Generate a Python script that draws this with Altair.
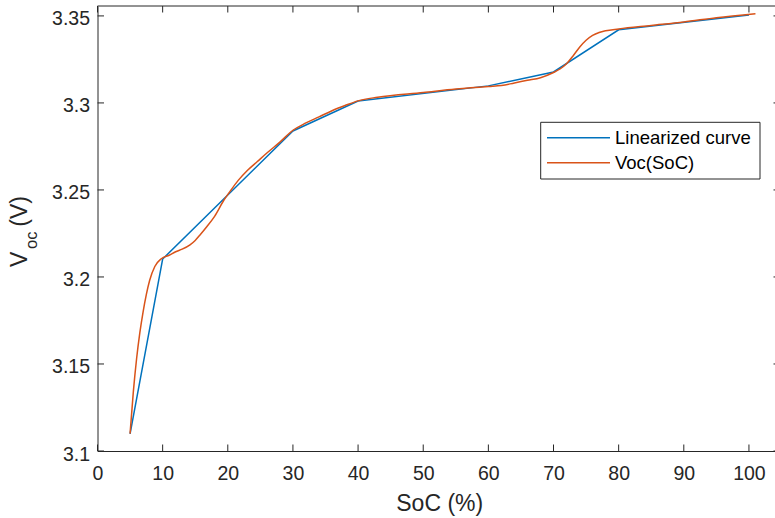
import altair as alt
import pandas as pd

# Linearized curve (piecewise linear breakpoints)
lin_soc = [5, 10, 30, 40, 60, 70, 80, 100]
lin_voc = [3.1098, 3.2103, 3.2839, 3.3011, 3.3098, 3.3178, 3.3420, 3.3505]

# Voc(SoC) measured curve
voc_soc = [5, 5.5, 6, 6.5, 7, 7.5, 8.0, 8.8, 9.8, 11, 12, 13, 14.2, 15, 15.7,
           16.8, 18, 19.3, 20.5, 21.6, 23, 24.5, 26, 28, 30, 32, 34, 36, 38, 40, 43, 50,
           55, 60, 62, 64, 66, 68, 70, 71, 72, 73, 74, 75, 76, 77, 78, 80, 85, 90, 95, 101]
voc_val = [3.110, 3.134, 3.153, 3.168, 3.180, 3.190, 3.198, 3.206, 3.2105, 3.2125,
           3.2145, 3.216, 3.2185, 3.221, 3.224, 3.229, 3.235, 3.2435, 3.2500, 3.2555,
           3.2612, 3.2662, 3.2712, 3.2775, 3.2843, 3.2885, 3.292, 3.2955, 3.2985, 3.3012,
           3.3033, 3.306, 3.308, 3.3095, 3.310, 3.3115, 3.313, 3.3145, 3.3175, 3.3195,
           3.3225, 3.327, 3.332, 3.336, 3.3388, 3.3405, 3.3415, 3.3425, 3.3445, 3.3465,
           3.349, 3.3513]

x_ticks = [0, 10, 20, 30, 40, 50, 60, 70, 80, 90, 100]
y_ticks = [3.1, 3.15, 3.2, 3.25, 3.3, 3.35]

legend_labels = ["Linearized curve", "Voc(SoC)"]

BLUE = "#0072BD"
ORANGE = "#D95319"
AX = "#262626"
FONT = "Liberation Sans"
W, H = 677.5, 445
XDOM = [0, 104.0]
YDOM = [3.1, 3.3557]

lin_df = pd.DataFrame({"soc": lin_soc, "voc": lin_voc})
voc_df = pd.DataFrame({"soc": voc_soc, "voc": voc_val})
xt_df = pd.DataFrame({"t": x_ticks})
yt_df = pd.DataFrame({"t": y_ticks})
one = alt.Data(values=[{"a": 1}])

xscale = alt.Scale(domain=XDOM, nice=False, zero=False)
yscale = alt.Scale(domain=YDOM, nice=False, zero=False)

xaxis = alt.Axis(title="", values=x_ticks, tickSize=0, grid=False, domainColor=AX,
                 domainWidth=1, labelColor=AX, labelFont=FONT, labelFontSize=19.5,
                 labelPadding=13, format="d", labelFlush=False, labelOverlap=False)
yaxis = alt.Axis(title="", values=y_ticks, tickSize=0, grid=False, domainColor=AX,
                 domainWidth=1, labelColor=AX, labelFont=FONT, labelFontSize=19.5,
                 labelPadding=8, format="~g", labelOffset=3, labelFlush=False,
                 labelOverlap=False)

lin_line = alt.Chart(lin_df).mark_line(color=BLUE, strokeWidth=1.5).encode(
    x=alt.X("soc:Q", scale=xscale, axis=xaxis),
    y=alt.Y("voc:Q", scale=yscale, axis=yaxis),
)
voc_line = alt.Chart(voc_df).mark_line(color=ORANGE, strokeWidth=1.5, interpolate="monotone").encode(
    x=alt.X("soc:Q", scale=xscale),
    y=alt.Y("voc:Q", scale=yscale),
)

# inward ticks (MATLAB style)
xt_bottom = alt.Chart(xt_df).mark_rule(color=AX, strokeWidth=1).encode(
    x=alt.X("t:Q", scale=xscale), y=alt.value(H), y2=alt.value(H - 6.5))
xt_top = alt.Chart(xt_df).mark_rule(color=AX, strokeWidth=1).encode(
    x=alt.X("t:Q", scale=xscale), y=alt.value(0), y2=alt.value(6.5))
yt_left = alt.Chart(yt_df).mark_rule(color=AX, strokeWidth=1).encode(
    y=alt.Y("t:Q", scale=yscale), x=alt.value(0), x2=alt.value(6.5))
yt_right = alt.Chart(yt_df).mark_rule(color=AX, strokeWidth=1).encode(
    y=alt.Y("t:Q", scale=yscale), x=alt.value(W - 1.5), x2=alt.value(W))

top_border = alt.Chart(one).mark_rule(color=AX, strokeWidth=1).encode(
    x=alt.value(0), x2=alt.value(W), y=alt.value(0))

# axis titles
x_title = alt.Chart(one).mark_text(text="SoC (%)", font=FONT, fontSize=23, color=AX,
                                   align="center", baseline="alphabetic").encode(
    x=alt.value(342.2), y=alt.value(505))
y_V = alt.Chart(one).mark_text(text="V", font=FONT, fontSize=23, color=AX, angle=270,
                               align="left", baseline="alphabetic").encode(
    x=alt.value(-70.5), y=alt.value(261))
y_oc = alt.Chart(one).mark_text(text="oc", font=FONT, fontSize=16.5, color=AX, angle=270,
                                align="left", baseline="alphabetic").encode(
    x=alt.value(-60.5), y=alt.value(243))
y_unit = alt.Chart(one).mark_text(text="(V)", font=FONT, fontSize=23, color=AX, angle=270,
                                  align="left", baseline="alphabetic").encode(
    x=alt.value(-70.5), y=alt.value(220.7))

# legend
leg_box = alt.Chart(one).mark_rect(fill="white", stroke=AX, strokeWidth=1).encode(
    x=alt.value(443.2), x2=alt.value(662.5), y=alt.value(116.3), y2=alt.value(173))
leg_l1 = alt.Chart(one).mark_rule(color=BLUE, strokeWidth=1.5).encode(
    x=alt.value(449.5), x2=alt.value(512.5), y=alt.value(131.7))
leg_l2 = alt.Chart(one).mark_rule(color=ORANGE, strokeWidth=1.5).encode(
    x=alt.value(449.5), x2=alt.value(512.5), y=alt.value(156.7))
leg_t1 = alt.Chart(one).mark_text(text=legend_labels[0], font=FONT, fontSize=18.5, color="#000000",
                                  align="left", baseline="middle").encode(
    x=alt.value(517.5), y=alt.value(131.7))
leg_t2 = alt.Chart(one).mark_text(text=legend_labels[1], font=FONT, fontSize=18.5, color="#000000",
                                  align="left", baseline="middle").encode(
    x=alt.value(517.5), y=alt.value(156.7))

chart = alt.layer(
    lin_line, voc_line, xt_bottom, xt_top, yt_left, yt_right, top_border,
    x_title, y_V, y_oc, y_unit, leg_box, leg_l1, leg_l2, leg_t1, leg_t2,
).properties(
    width=W, height=H,
    autosize=alt.AutoSizeParams(type="none"),
    padding={"left": 97.5, "top": 6, "right": 0, "bottom": 67},
    background="white",
).configure_view(strokeWidth=0)

chart.save("out.html", embed_options={"renderer": "svg", "actions": False})
